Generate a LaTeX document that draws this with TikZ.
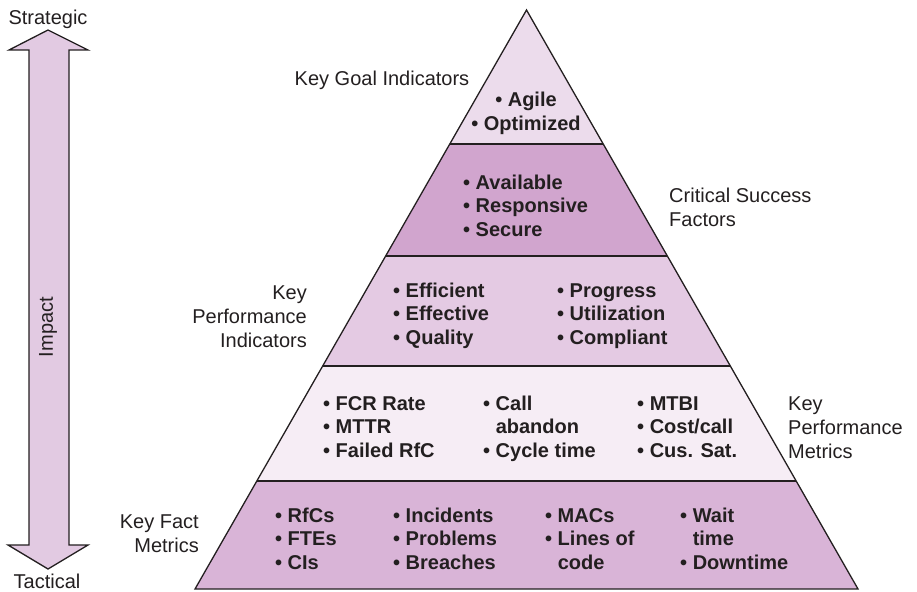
\documentclass[tikz,border=0pt]{standalone}
\usepackage{fontspec}
\setmainfont{Liberation Sans}
\usetikzlibrary{calc}
\definecolor{txt}{HTML}{231F20}
\definecolor{bandA}{HTML}{ECDCEC}
\definecolor{bandB}{HTML}{D1A5CE}
\definecolor{bandC}{HTML}{E4CAE3}
\definecolor{bandD}{HTML}{F6EDF5}
\definecolor{bandE}{HTML}{D9B4D7}
\definecolor{arrowfill}{HTML}{E2CAE2}
\tikzset{
  lbl/.style={font=\fontsize{20}{24}\selectfont, text=txt, inner sep=0pt},
  blt/.style={font=\fontsize{20}{23.5}\selectfont\bfseries, text=txt, inner sep=0pt, align=left, anchor=west},
  edge/.style={draw=txt, line width=1.3pt, line join=miter},
}
\newcommand{\bl}{\strut\textbullet\ }
\newcommand{\ind}{\strut\phantom{\textbullet\ }}
\begin{document}
\begin{tikzpicture}[x=1pt,y=-1pt]
\useasboundingbox (0,0) rectangle (917,591);
% pyramid geometry
\coordinate (apex) at (526.5,10);
\coordinate (bl) at (195,589);
\coordinate (br) at (858,589);
\coordinate (l1) at ($(apex)!0.23143!(bl)$);
\coordinate (r1) at ($(apex)!0.23143!(br)$);
\coordinate (l2) at ($(apex)!0.42487!(bl)$);
\coordinate (r2) at ($(apex)!0.42487!(br)$);
\coordinate (l3) at ($(apex)!0.61485!(bl)$);
\coordinate (r3) at ($(apex)!0.61485!(br)$);
\coordinate (l4) at ($(apex)!0.81347!(bl)$);
\coordinate (r4) at ($(apex)!0.81347!(br)$);
% bands
\fill[bandA] (apex) -- (r1) -- (l1) -- cycle;
\fill[bandB] (l1) -- (r1) -- (r2) -- (l2) -- cycle;
\fill[bandC] (l2) -- (r2) -- (r3) -- (l3) -- cycle;
\fill[bandD] (l3) -- (r3) -- (r4) -- (l4) -- cycle;
\fill[bandE] (l4) -- (r4) -- (br) -- (bl) -- cycle;
\draw[edge] (l1) -- (r1);
\draw[edge] (l2) -- (r2);
\draw[edge] (l3) -- (r3);
\draw[edge] (l4) -- (r4);
\draw[edge] (apex) -- (br) -- (bl) -- cycle;
% impact arrow
\draw[edge, fill=arrowfill] (48,30) -- (88,50) -- (69,50) -- (69,545) -- (88,545) -- (48,569)
  -- (8,545) -- (29,545) -- (29,50) -- (9,50) -- cycle;
\node[lbl] (strategic) at (48,19) {Strategic};
\node[lbl] (tactical) at (47,581) {Tactical};
\node[lbl, rotate=90] (impact) at (48,327) {Impact};
% side labels
\node[lbl, align=left, anchor=west] (csf) at (669,207.5) {Critical Success\\Factors};
\node[lbl] (kgi) at (382,80) {Key Goal Indicators};
\node[lbl, align=right, anchor=east] (kpi) at (307,317) {Key\\Performance\\Indicators};
\node[lbl, align=left, anchor=west] (kpm) at (788,428) {Key\\Performance\\Metrics};
\node[lbl, align=right, anchor=east] (kfm) at (199,533.5) {Key Fact\\Metrics};
% band contents
\node[blt, align=center, anchor=center] (goals) at (526,114) {\bl Agile\\\bl Optimized};
\node[blt] (csfitems) at (463,208) {\bl Available\\\bl Responsive\\\bl Secure};
\node[blt] (kpiA) at (393,316) {\bl Efficient\\\bl Effective\\\bl Quality};
\node[blt] (kpiB) at (557,316) {\bl Progress\\\bl Utilization\\\bl Compliant};
\node[blt] (kpmA) at (323,429) {\bl FCR Rate\\\bl MTTR\\\bl Failed RfC};
\node[blt] (kpmB) at (483,429) {\bl Call\\\ind abandon\\\bl Cycle time};
\node[blt] (kpmC) at (637,429) {\bl MTBI\\\bl Cost/call\\\bl Cus. Sat.};
\node[blt] (kfmA) at (275,541) {\bl RfCs\\\bl FTEs\\\bl CIs};
\node[blt] (kfmB) at (393,541) {\bl Incidents\\\bl Problems\\\bl Breaches};
\node[blt] (kfmC) at (545,541) {\bl MACs\\\bl Lines of\\\ind code};
\node[blt] (kfmD) at (680,541) {\bl Wait\\\ind time\\\bl Downtime};
\end{tikzpicture}
\end{document}
